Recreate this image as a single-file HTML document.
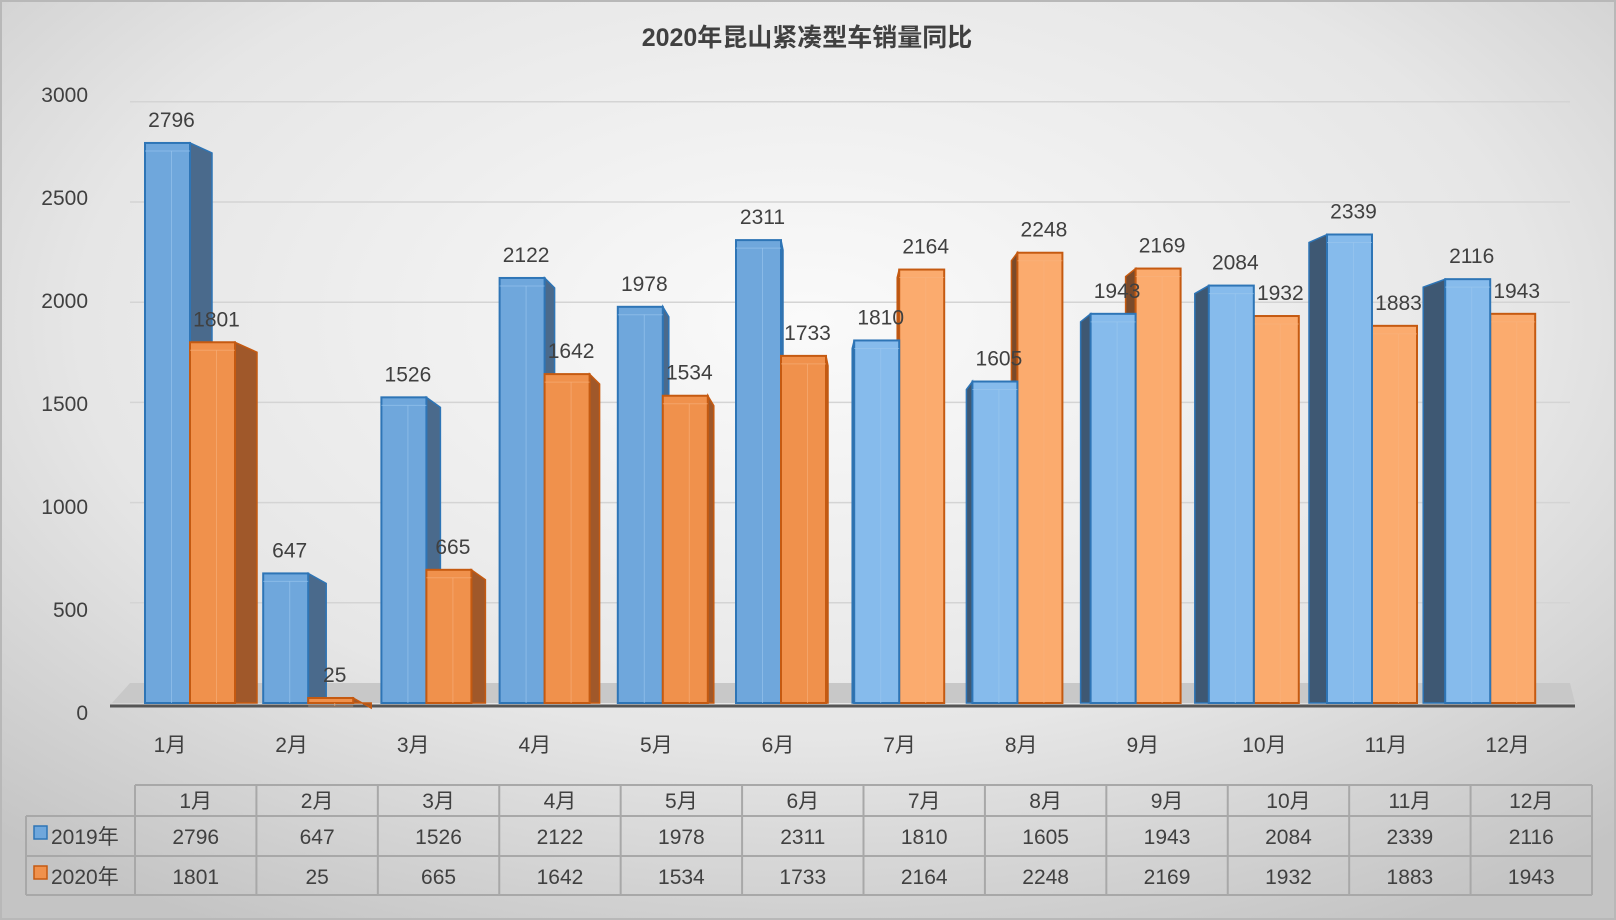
<!DOCTYPE html>
<html><head><meta charset="utf-8">
<style>
html,body{margin:0;padding:0;width:1616px;height:920px;overflow:hidden;}
svg text{font-family:"Liberation Sans","Noto Sans CJK SC",sans-serif;fill:#404040;}
</style></head>
<body>
<svg id="s" width="1616" height="920" xmlns="http://www.w3.org/2000/svg">
<defs>
<radialGradient id="bg" cx="0.5" cy="0.35" r="0.75">
<stop offset="0" stop-color="#fafafa"/><stop offset="0.6" stop-color="#e6e6e6"/><stop offset="1" stop-color="#c4c4c4"/>
</radialGradient>
</defs>
<rect x="0" y="0" width="1616" height="920" fill="url(#bg)"/>
<rect x="1" y="1" width="1614" height="918" fill="none" stroke="#b8b8b8" stroke-width="2"/>
<text x="807" y="46" font-size="25" font-weight="bold" text-anchor="middle" fill="#333">2020年昆山紧凑型车销量同比</text>
<g id="grid"></g>
<polygon points="112,703 130,683 1570,683 1575,703" fill="#c8c8c8"/>
<line x1="110" y1="706" x2="1575" y2="706" stroke="#555" stroke-width="3"/>
<g id="bars"></g>
<g id="tbl"></g>
</svg>
<script>
var b=[2796,647,1526,2122,1978,2311,1810,1605,1943,2084,2339,2116];
var o=[1801,25,665,1642,1534,1733,2164,2248,2169,1932,1883,1943];
var NS="http://www.w3.org/2000/svg";
function el(p,t,a,txt){var e=document.createElementNS(NS,t);for(var k in a)e.setAttribute(k,a[k]);if(txt!=null)e.textContent=txt;p.appendChild(e);return e;}
var g=document.getElementById('grid');
for(var i=0;i<=6;i++){var y=712-i*103;
 el(g,'text',{x:88,y:y+8,'font-size':21,'text-anchor':'end'},String(i*500));
 if(i>0) el(g,'line',{x1:130,y1:703-i*100.2,x2:1570,y2:703-i*100.2,stroke:'#d4d4d4','stroke-width':1.5});
}
var bs=document.getElementById('bars');
var base=703,k=0.2003,W=45;
function bar(x,v,i,front,side,stroke,top){
 var h=v*k,yt=base-h,dx=(5.5-i)*4;
 if(dx>0){
  el(bs,'polygon',{points:[x+W,yt, x+W+dx,yt+10, x+W+dx,base, x+W,base].join(','),fill:side,stroke:stroke,'stroke-width':1.5});
 }
 if(dx<0){
  el(bs,'polygon',{points:[x,yt, x+dx,yt+8, x+dx,base, x,base].join(','),fill:side,stroke:stroke,'stroke-width':1.5});
 }
 el(bs,'rect',{x:x,y:yt,width:W,height:h,fill:front,stroke:stroke,'stroke-width':2});
 el(bs,'line',{x1:x+W/2+4,y1:yt+8,x2:x+W/2+4,y2:base,stroke:top,'stroke-width':1,opacity:0.6});
 el(bs,'line',{x1:x,y1:yt+8,x2:x+W,y2:yt+8,stroke:top,'stroke-width':1,opacity:0.6});
 return yt;
}
for(var i=0;i<12;i++){
 var x=145+i*118.2;
 var lb=i>=6?'#86bbec':'#6fa7dc', lo=i>=6?'#fbab6e':'#f0914c';
 var yb,yo;
 if(i<6){
  yb=bar(x,b[i],i,lb,'#4a6a8c','#2e75b6','#9cc8ef');
  yo=bar(x+W,o[i],i,lo,'#a0582a','#c55a11','#f8b27d');
 } else {
  yo=bar(x+W,o[i],i,lo,'#7a4a2a','#c55a11','#f8b27d');
  yb=bar(x,b[i],i,lb,'#3e5873','#2e75b6','#9cc8ef');
 }
 el(bs,'text',{x:x+W/2+4,y:yb-16,'font-size':21,'text-anchor':'middle'},String(b[i]));
 el(bs,'text',{x:x+W+W/2+4,y:yo-16,'font-size':21,'text-anchor':'middle'},String(o[i]));
 el(bs,'text',{x:170+i*121.6,y:752,'font-size':21,'text-anchor':'middle'},(i+1)+'月');
}
var t=document.getElementById('tbl');
var c0=26,c1=135,cw=(1592-135)/12,r=[785,816,856,895];
var st={stroke:'#a8a8a8','stroke-width':2};
for(var j=0;j<4;j++){var a={x1:(j==0?c1:c0),y1:r[j],x2:1592,y2:r[j]};for(var q in st)a[q]=st[q];el(t,'line',a);}
var a={x1:c0,y1:r[1],x2:c0,y2:r[3]};for(var q in st)a[q]=st[q];el(t,'line',a);
for(var i=0;i<=12;i++){var xx=c1+i*cw;var a={x1:xx,y1:r[0],x2:xx,y2:r[3]};for(var q in st)a[q]=st[q];el(t,'line',a);}
for(var i=0;i<12;i++){var cx=c1+i*cw+cw/2;
 el(t,'text',{x:cx,y:808,'font-size':21,'text-anchor':'middle'},(i+1)+'月');
 el(t,'text',{x:cx,y:844,'font-size':21,'text-anchor':'middle'},String(b[i]));
 el(t,'text',{x:cx,y:884,'font-size':21,'text-anchor':'middle'},String(o[i]));
}
el(t,'rect',{x:34,y:826,width:13,height:13,fill:'#6fa7dc',stroke:'#2e75b6','stroke-width':1.5});
el(t,'text',{x:51,y:844,'font-size':21},'2019年');
el(t,'rect',{x:34,y:866,width:13,height:13,fill:'#f0914c',stroke:'#c55a11','stroke-width':1.5});
el(t,'text',{x:51,y:884,'font-size':21},'2020年');
</script>
</body></html>
